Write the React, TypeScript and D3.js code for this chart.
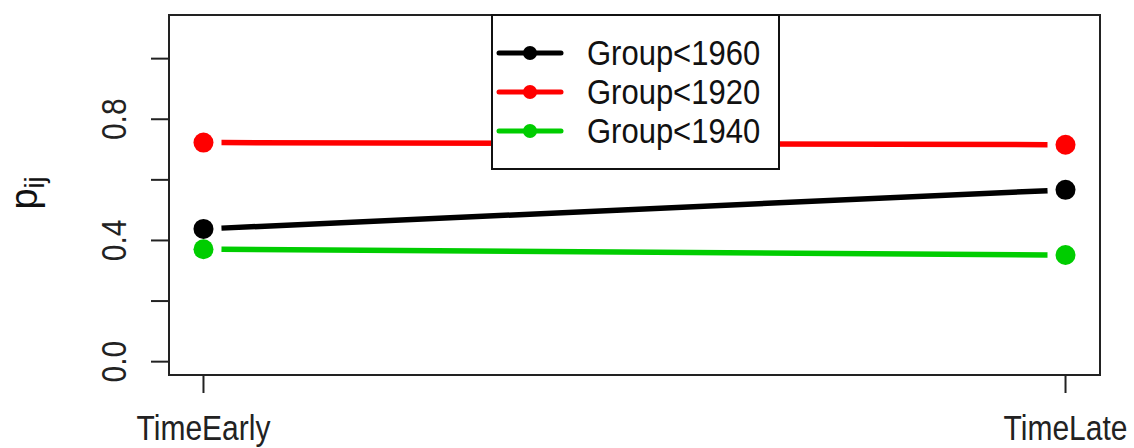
import React from "react";
import * as d3 from "d3";

// Time points on the x axis
const timeLabels: string[] = ["TimeEarly", "TimeLate"];

// Group names as shown in the legend, in legend order
const groupNames: string[] = ["Group<1960", "Group<1920", "Group<1940"];
const groupColors: string[] = ["#000000", "#FF0000", "#00CD00"];

// Estimated probabilities p_ij for each group at each time point
const group1960: number[] = [0.438, 0.567];
const group1920: number[] = [0.723, 0.716];
const group1940: number[] = [0.371, 0.352];

const seriesValues: number[][] = [group1960, group1920, group1940];

// Y axis ticks; only every other one gets a label
const yTicks: number[] = [0, 0.2, 0.4, 0.6, 0.8, 1.0];
const yTickLabels: string[] = ["0.0", "", "0.4", "", "0.8", ""];

const W = 1134;
const H = 448;
const plot = { left: 169, right: 1100, top: 15, bottom: 375 };
const FONT = "'Liberation Sans', Arial, sans-serif";
// glyphs are drawn slightly taller than the font's natural proportions
const STRETCH = 1.15;

export default function App() {
  // 4% padding on both ends of each axis
  const x = d3
    .scaleLinear()
    .domain([1 - 0.04, 2 + 0.04])
    .range([plot.left, plot.right]);
  const y = d3
    .scaleLinear()
    .domain([0 - 0.044, 1.1 + 0.044])
    .range([plot.bottom, plot.top]);

  const gap = 18; // empty space between a line and its end points
  const tickLen = 18;
  const fs = 30;

  const segment = (vals: number[]) => {
    const x1 = x(1), y1 = y(vals[0]);
    const x2 = x(2), y2 = y(vals[1]);
    const len = Math.hypot(x2 - x1, y2 - y1);
    const ux = (x2 - x1) / len, uy = (y2 - y1) / len;
    return {
      x1: x1 + ux * gap,
      y1: y1 + uy * gap,
      x2: x2 - ux * gap,
      y2: y2 - uy * gap,
    };
  };

  // Legend geometry
  const legend = { left: 492, right: 779, top: 15, bottom: 169 };
  const rowY = [53, 92, 131];

  return (
    <svg
      width={W}
      height={H}
      style={{ position: "absolute", left: 0, top: 0, background: "#fff" }}
      fontFamily={FONT}
    >
      <rect x={0} y={0} width={W} height={H} fill="#fff" />

      {/* series lines with gaps at the points */}
      {seriesValues.map((vals, i) => {
        const s = segment(vals);
        return (
          <line
            key={"l" + i}
            {...s}
            stroke={groupColors[i]}
            strokeWidth={5.5}
          />
        );
      })}
      {seriesValues.map((vals, i) =>
        vals.map((v, j) => (
          <circle
            key={`p${i}-${j}`}
            cx={x(j + 1)}
            cy={y(v)}
            r={10}
            fill={groupColors[i]}
          />
        ))
      )}

      {/* plot frame */}
      <rect
        x={plot.left}
        y={plot.top}
        width={plot.right - plot.left}
        height={plot.bottom - plot.top}
        fill="none"
        stroke="#222"
        strokeWidth={2}
      />

      {/* y axis */}
      {yTicks.map((t, i) => (
        <g key={"yt" + i}>
          <line
            x1={plot.left - tickLen}
            x2={plot.left}
            y1={y(t)}
            y2={y(t)}
            stroke="#222"
            strokeWidth={2}
          />
          {yTickLabels[i] && (
            <text
              transform={`translate(${126},${y(t)}) rotate(-90) scale(1,${STRETCH + 0.03})`}
              textAnchor="middle"
              fontSize={fs}
              fill="#222"
            >
              {yTickLabels[i]}
            </text>
          )}
        </g>
      ))}

      {/* x axis */}
      {timeLabels.map((lab, i) => (
        <g key={"xt" + i}>
          <line
            x1={x(i + 1)}
            x2={x(i + 1)}
            y1={plot.bottom}
            y2={plot.bottom + tickLen}
            stroke="#222"
            strokeWidth={2}
          />
          <text
            transform={`translate(${x(i + 1)},${440}) scale(1,${STRETCH})`}
            textAnchor="middle"
            fontSize={fs}
            fill="#222"
          >
            {lab}
          </text>
        </g>
      ))}

      {/* y axis title p_ij */}
      <text
        transform={`translate(${37},${193}) rotate(-90)`}
        textAnchor="middle"
        fill="#111"
      >
        <tspan fontSize={38}>p</tspan>
        <tspan fontSize={27} dy={7}>
          ij
        </tspan>
      </text>

      {/* legend */}
      <rect
        x={legend.left}
        y={legend.top}
        width={legend.right - legend.left}
        height={legend.bottom - legend.top}
        fill="#fff"
        stroke="#111"
        strokeWidth={2}
      />
      {groupNames.map((name, i) => (
        <g key={"lg" + i}>
          <line
            x1={499}
            x2={561}
            y1={rowY[i]}
            y2={rowY[i]}
            stroke={groupColors[i]}
            strokeWidth={5}
            strokeLinecap="round"
          />
          <circle cx={530} cy={rowY[i]} r={7} fill={groupColors[i]} />
          <text
            transform={`translate(${587},${rowY[i] + 12}) scale(1,${STRETCH})`}
            fontSize={31}
            fill="#111"
          >
            {name}
          </text>
        </g>
      ))}
    </svg>
  );
}
